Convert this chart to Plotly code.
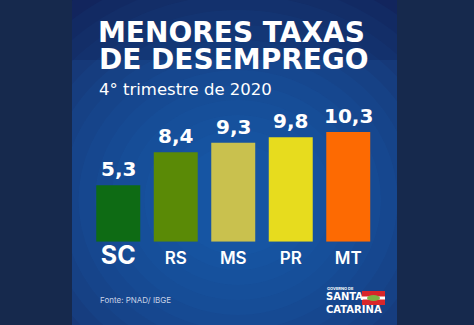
import plotly.graph_objects as go

# ---- data ----
categories = ["SC", "RS", "MS", "PR", "MT"]
values = [5.3, 8.4, 9.3, 9.8, 10.3]
value_labels = ["5,3", "8,4", "9,3", "9,8", "10,3"]
bar_colors = ["#0e6b14", "#5a8a06", "#c9c14e", "#e7dc1e", "#fd6a02"]
title_lines = ["MENORES TAXAS", "DE DESEMPREGO"]
subtitle = "4° trimestre de 2020"
source = "Fonte: PNAD/ IBGE"
logo_small = "GOVERNO DE"
logo_lines = ["SANTA", "CATARINA"]

W, H = 474, 325


def px(x):
    return x / W


def py(y):
    return 1 - y / H


HEAVY = "DejaVu Sans"
FONT = "Inter"

fig = go.Figure(
    go.Bar(
        x=categories,
        y=values,
        marker=dict(color=bar_colors, line_width=0),
        width=0.765,
        hoverinfo="skip",
    )
)

# tick text: SC emphasised
ticktext = []
for c in categories:
    if c == "SC":
        ticktext.append("<b><span style='font-size:25px'>%s</span></b>" % c)
    else:
        ticktext.append(c)

shapes = []
# panel base
shapes.append(dict(type="rect", xref="paper", yref="paper", x0=px(72), x1=px(397), y0=0, y1=1,
                   fillcolor="#13235a", line_width=0, layer="below"))
# radial glow approximation (many faint layers)
cx, cy = 238, 200
n = 14
for i in range(n):
    r = 250 - i * 15
    shapes.append(dict(type="circle", xref="paper", yref="paper",
                       x0=px(cx - r * 1.1), x1=px(cx + r * 1.1), y0=py(cy + r), y1=py(cy - r),
                       fillcolor="#1f6cc0", opacity=0.095, line_width=0, layer="below"))
# darker top band
shapes.append(dict(type="rect", xref="paper", yref="paper", x0=px(72), x1=px(397), y0=py(60), y1=1,
                   fillcolor="#0c1a4a", opacity=0.25, line_width=0, layer="below"))
# outer bands
shapes.append(dict(type="rect", xref="paper", yref="paper", x0=0, x1=px(72), y0=0, y1=1,
                   fillcolor="#16294d", line_width=0, layer="below"))
shapes.append(dict(type="rect", xref="paper", yref="paper", x0=px(397), x1=1, y0=0, y1=1,
                   fillcolor="#16294d", line_width=0, layer="below"))
# flag in logo
shapes.append(dict(type="rect", xref="paper", yref="paper", x0=px(362), x1=px(385), y0=py(305), y1=py(291),
                   fillcolor="#d8262a", line_width=0, layer="above"))
shapes.append(dict(type="rect", xref="paper", yref="paper", x0=px(362), x1=px(385), y0=py(299.5), y1=py(296.5),
                   fillcolor="#ffffff", line_width=0, layer="above"))
shapes.append(dict(type="circle", xref="paper", yref="paper", x0=px(367), x1=px(380), y0=py(301), y1=py(295),
                   fillcolor="#7cb342", line_width=0, layer="above"))

annotations = []
for c, v, t in zip(categories, values, value_labels):
    annotations.append(dict(x=c, y=v, xref="x", yref="y", text="<b>%s</b>" % t, showarrow=False,
                            yanchor="bottom", yshift=2,
                            font=dict(family=HEAVY, size=20, color="white")))

annotations.append(dict(x=px(96), y=py(32), xref="paper", yref="paper", text="<b>%s</b>" % title_lines[0],
                        showarrow=False, xanchor="left", yanchor="middle",
                        font=dict(family=HEAVY, size=28, color="white")))
annotations.append(dict(x=px(97), y=py(59), xref="paper", yref="paper", text="<b>%s</b>" % title_lines[1],
                        showarrow=False, xanchor="left", yanchor="middle",
                        font=dict(family=HEAVY, size=28, color="white")))
annotations.append(dict(x=px(97), y=py(89), xref="paper", yref="paper", text=subtitle,
                        showarrow=False, xanchor="left", yanchor="middle",
                        font=dict(family=HEAVY, size=16.5, color="white")))
annotations.append(dict(x=px(98), y=py(300), xref="paper", yref="paper", text=source,
                        showarrow=False, xanchor="left", yanchor="middle",
                        font=dict(family=FONT, size=8, color="#c8d2e6")))
# logo text
annotations.append(dict(x=px(325), y=py(288.5), xref="paper", yref="paper", text="<b>%s</b>" % logo_small,
                        showarrow=False, xanchor="left", yanchor="middle",
                        font=dict(family=FONT, size=4, color="white")))
annotations.append(dict(x=px(324), y=py(303), xref="paper", yref="paper",
                        text="<br>".join("<b>%s</b>" % s for s in logo_lines),
                        showarrow=False, xanchor="left", yanchor="middle", align="left",
                        font=dict(family=HEAVY, size=10, color="white")))

fig.update_layout(
    width=W, height=H,
    margin=dict(l=0, r=0, t=0, b=0),
    paper_bgcolor="#16294d",
    plot_bgcolor="rgba(0,0,0,0)",
    showlegend=False,
    shapes=shapes,
    annotations=annotations,
    xaxis=dict(domain=[px(89.5), px(377)], range=[-0.5, 4.5], type="category",
               tickmode="array", tickvals=categories, ticktext=ticktext,
               showgrid=False, zeroline=False, showline=False, ticks="",
               tickfont=dict(family=FONT, size=17, color="white", weight=600),
               ticklabelstandoff=4, fixedrange=True),
    yaxis=dict(domain=[py(241.7), py(100)], range=[0, 141.7 / 10.65],
               showgrid=False, zeroline=False, showline=False, showticklabels=False,
               fixedrange=True),
)

fig.write_html("out.html")
